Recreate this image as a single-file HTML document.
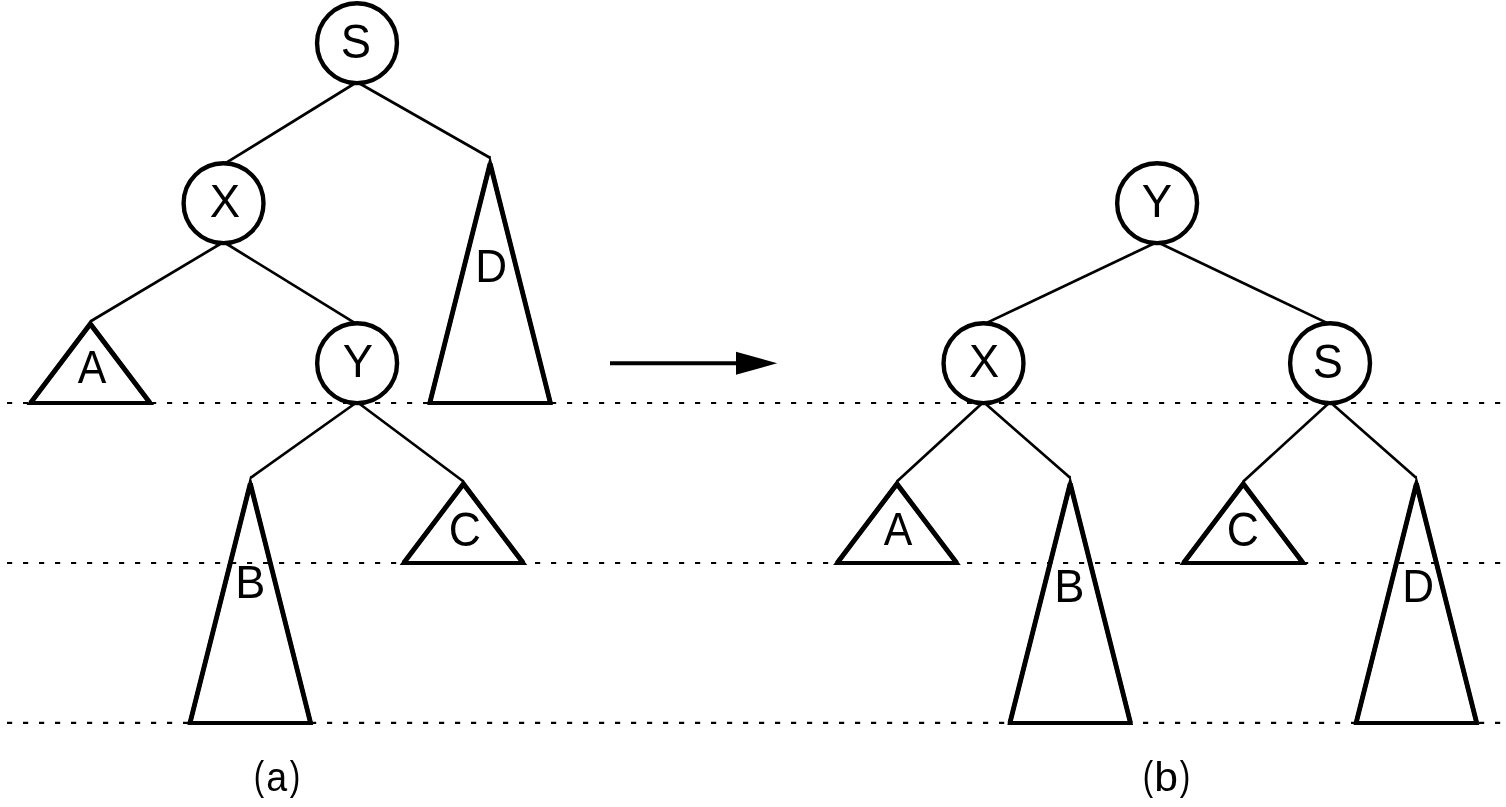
<!DOCTYPE html>
<html><head><meta charset="utf-8"><title>Tree rotation</title>
<style>html,body{margin:0;padding:0;background:#fff;overflow:hidden}svg{display:block;will-change:transform}text{font-family:"Liberation Sans",sans-serif;font-size:100px;fill:#000}</style></head><body>
<svg width="1506" height="807" viewBox="0 0 1506 807">
<rect width="1506" height="807" fill="#fff"/>
<g stroke="#000" stroke-width="2.1" stroke-dasharray="5.2 10.8" fill="none">
<line x1="7" y1="403" x2="1506" y2="403"/>
<line x1="7" y1="563" x2="1506" y2="563"/>
<line x1="7" y1="722.9" x2="1506" y2="722.9"/>
</g>
<g stroke="#000" stroke-width="2.7" fill="none">
<line x1="357.00" y1="82.00" x2="223.55" y2="164.40"/>
<line x1="357.00" y1="82.00" x2="490.40" y2="158.00"/>
<line x1="223.55" y1="242.00" x2="90.30" y2="321.50"/>
<line x1="223.55" y1="242.00" x2="357.10" y2="324.40"/>
<line x1="357.10" y1="402.00" x2="250.40" y2="478.00"/>
<line x1="357.10" y1="402.00" x2="463.50" y2="481.50"/>
<line x1="1157.10" y1="242.00" x2="983.50" y2="324.40"/>
<line x1="1157.10" y1="242.00" x2="1330.05" y2="324.40"/>
<line x1="983.50" y1="402.00" x2="896.90" y2="481.50"/>
<line x1="983.50" y1="402.00" x2="1070.40" y2="478.00"/>
<line x1="1330.05" y1="402.00" x2="1243.30" y2="481.50"/>
<line x1="1330.05" y1="402.00" x2="1416.40" y2="478.00"/>
</g>
<g stroke="#000" stroke-width="4.4" fill="#fff">
<circle cx="357.00" cy="43.20" r="39.95"/>
<circle cx="223.55" cy="203.20" r="39.95"/>
<circle cx="357.10" cy="363.20" r="39.95"/>
<circle cx="1157.10" cy="203.20" r="39.95"/>
<circle cx="983.50" cy="363.20" r="39.95"/>
<circle cx="1330.05" cy="363.20" r="39.95"/>
</g>
<g stroke="#000" stroke-width="4" fill="none" stroke-linejoin="miter" stroke-miterlimit="10">
<polygon points="490.10,163.54 429.80,403.00 550.40,403.00"/><polyline stroke-width="4.9" stroke-linejoin="bevel" points="429.80,403.00 490.10,163.54 550.40,403.00"/>
<polygon points="250.30,483.54 190.00,723.00 310.60,723.00"/><polyline stroke-width="4.9" stroke-linejoin="bevel" points="190.00,723.00 250.30,483.54 310.60,723.00"/>
<polygon points="1070.20,483.54 1009.90,723.00 1130.50,723.00"/><polyline stroke-width="4.9" stroke-linejoin="bevel" points="1009.90,723.00 1070.20,483.54 1130.50,723.00"/>
<polygon points="1416.40,483.54 1356.10,723.00 1476.70,723.00"/><polyline stroke-width="4.9" stroke-linejoin="bevel" points="1356.10,723.00 1416.40,483.54 1476.70,723.00"/>
<polygon points="90.30,323.93 30.50,403.00 150.10,403.00"/><polyline stroke-width="4.9" points="30.50,403.00 90.30,323.93 150.10,403.00"/>
<polygon points="463.45,483.93 403.65,563.00 523.25,563.00"/><polyline stroke-width="4.9" points="403.65,563.00 463.45,483.93 523.25,563.00"/>
<polygon points="896.95,483.93 837.15,563.00 956.75,563.00"/><polyline stroke-width="4.9" points="837.15,563.00 896.95,483.93 956.75,563.00"/>
<polygon points="1243.30,483.93 1183.50,563.00 1303.10,563.00"/><polyline stroke-width="4.9" points="1183.50,563.00 1243.30,483.93 1303.10,563.00"/>
</g>
<line x1="610" y1="363.2" x2="738" y2="363.2" stroke="#000" stroke-width="4"/>
<polygon points="736,351.8 777.2,363.3 736,374.8" fill="#000"/>
<text transform="matrix(0.4534 0 0 0.4901 340.84 57.92)">S</text>
<text transform="matrix(0.4555 0 0 0.4680 209.78 217.00)">X</text>
<text transform="matrix(0.4542 0 0 0.4680 342.80 377.00)">Y</text>
<text transform="matrix(0.4407 0 0 0.4680 475.29 282.00)">D</text>
<text transform="matrix(0.4283 0 0 0.4666 77.72 382.90)">A</text>
<text transform="matrix(0.4509 0 0 0.4666 235.20 597.90)">B</text>
<text transform="matrix(0.4453 0 0 0.4901 448.74 545.92)">C</text>
<text transform="matrix(0.4558 0 0 0.4680 1141.80 217.00)">Y</text>
<text transform="matrix(0.4523 0 0 0.4680 968.88 377.00)">X</text>
<text transform="matrix(0.4516 0 0 0.4901 1312.85 377.92)">S</text>
<text transform="matrix(0.4283 0 0 0.4666 883.72 545.00)">A</text>
<text transform="matrix(0.4528 0 0 0.4680 1054.19 602.00)">B</text>
<text transform="matrix(0.4453 0 0 0.4901 1226.74 545.92)">C</text>
<text transform="matrix(0.4407 0 0 0.4680 1402.29 602.00)">D</text>
<text transform="matrix(0.3130 0 0 0.3977 253.86 789.77)">(</text>
<text transform="matrix(0.3757 0 0 0.4070 266.30 790.70)">a</text>
<text transform="matrix(0.3168 0 0 0.3977 289.71 789.77)">)</text>
<text transform="matrix(0.3130 0 0 0.3977 1142.86 789.77)">(</text>
<text transform="matrix(0.4269 0 0 0.4112 1154.15 790.70)">b</text>
<text transform="matrix(0.3168 0 0 0.3977 1179.71 789.77)">)</text>
</svg></body></html>
